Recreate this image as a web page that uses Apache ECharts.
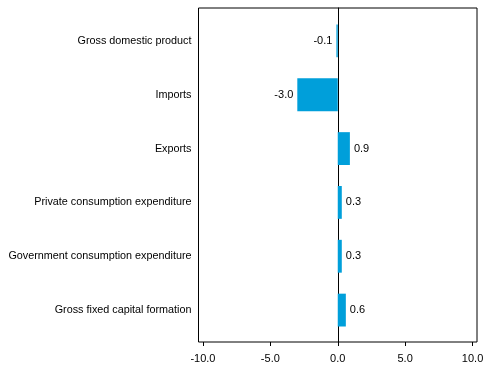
<!DOCTYPE html>
<html><head><meta charset="utf-8">
<script src="https://cdn.jsdelivr.net/npm/echarts@6/dist/echarts.min.js"></script>
<style>html,body{margin:0;padding:0;background:#fff}#c{width:491px;height:377px}</style>
</head><body><div id="c"></div>
<script>
var categories = ["Gross domestic product","Imports","Exports","Private consumption expenditure","Government consumption expenditure","Gross fixed capital formation"];
var values = [-0.1, -3.0, 0.9, 0.3, 0.3, 0.6];
var tickValues = [-10, -5, 0, 5, 10];
var chart = echarts.init(document.getElementById('c'));
var font = 'Liberation Sans, Arial, sans-serif';
var xMin = -10.33, xMax = 10.33;
chart.setOption({
  animation: false,
  grid: [
    {left: 198.5, right: 14, top: 8, bottom: 35, show: true, borderColor: '#000', borderWidth: 1},
    {left: 198.5, right: 14, top: 14, bottom: 40}
  ],
  xAxis: [{
    gridIndex: 0, type: 'value', min: xMin, max: xMax,
    axisLine: {show: false},
    splitLine: {show: false},
    axisTick: {show: true, customValues: tickValues, length: 4, lineStyle: {color: '#000'}},
    axisLabel: {customValues: tickValues, color: '#000', fontFamily: font, fontSize: 11, margin: 11,
      formatter: function(v){ return v.toFixed(1); }}
  }, {
    gridIndex: 1, type: 'value', min: xMin, max: xMax, show: false,
    splitLine: {show: false}
  }],
  yAxis: [{
    gridIndex: 0, type: 'value', min: 0, max: 1,
    axisLine: {show: true, onZero: true, lineStyle: {color: '#000', width: 1}},
    axisTick: {show: false}, axisLabel: {show: false}, splitLine: {show: false}
  }, {
    gridIndex: 1, type: 'category', data: categories, inverse: true,
    axisLine: {show: false},
    axisTick: {show: false},
    axisLabel: {color: '#000', fontFamily: font, fontSize: 10.8, margin: 7}
  }],
  series: [{
    type: 'bar', xAxisIndex: 1, yAxisIndex: 1, barCategoryGap: '39%',
    itemStyle: {color: '#009FDA'},
    data: values.map(function(v){
      return {value: v, label: {show: true, position: v < 0 ? 'left' : 'right', distance: 4,
        color: '#000', fontFamily: font, fontSize: 11,
        formatter: function(p){ return p.value.toFixed(1); }}};
    })
  }]
});
</script></body></html>
